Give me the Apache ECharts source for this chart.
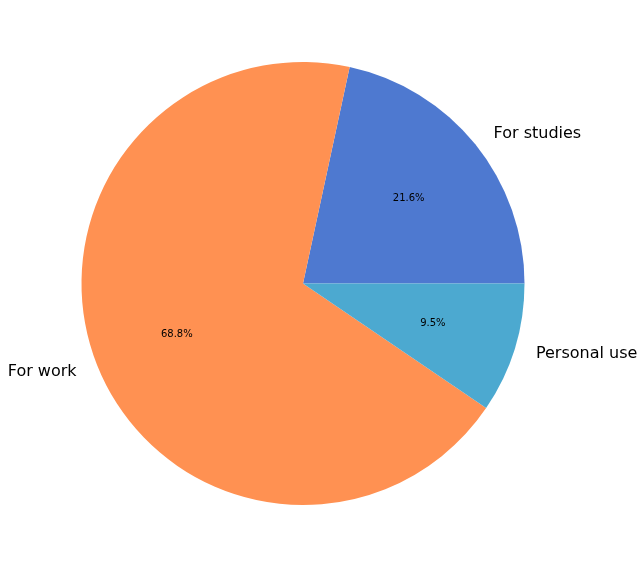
<!DOCTYPE html>
<html>
<head>
<meta charset="utf-8">
<script src="https://cdn.jsdelivr.net/npm/echarts@6/dist/echarts.min.js"></script>
<style>
html, body { margin: 0; padding: 0; background: #fff; }
#main { width: 644px; height: 568px; }
</style>
</head>
<body>
<div id="main"></div>
<script>
var categories = ['For studies', 'For work', 'Personal use'];
var shares = [21.6, 68.8, 9.5];
var colors = ['#4e79d0', '#ff9152', '#4ca9d0'];

var chart = echarts.init(document.getElementById('main'));

var R = 221.5;
var center = [303, 283.5];
var data = categories.map(function (name, i) {
    return { name: name, value: shares[i], itemStyle: { color: colors[i] } };
});

chart.setOption({
    animation: false,
    series: [
        {
            // slices + outer category labels
            type: 'pie',
            center: center,
            radius: [0, R],
            startAngle: 0,
            clockwise: false,
            avoidLabelOverlap: false,
            data: data,
            label: {
                show: true,
                position: 'outside',
                formatter: '{b}',
                fontFamily: 'DejaVu Sans',
                fontSize: 16,
                color: '#000',
                distanceToLabelLine: 5
            },
            labelLine: { show: false, length: 17, length2: 0 },
            emphasis: { disabled: true }
        },
        {
            // invisible ring just for the percent labels at 0.6R
            type: 'pie',
            center: center,
            radius: [0.2 * R, R],
            startAngle: 0,
            clockwise: false,
            silent: true,
            data: categories.map(function (name, i) {
                return { name: name, value: shares[i] };
            }),
            itemStyle: { color: 'rgba(0,0,0,0)' },
            label: {
                show: true,
                position: 'inside',
                formatter: function (p) { return p.value.toFixed(1) + '%'; },
                fontFamily: 'DejaVu Sans',
                fontSize: 10,
                color: '#000'
            },
            labelLine: { show: false }
        }
    ]
});
</script>
</body>
</html>
